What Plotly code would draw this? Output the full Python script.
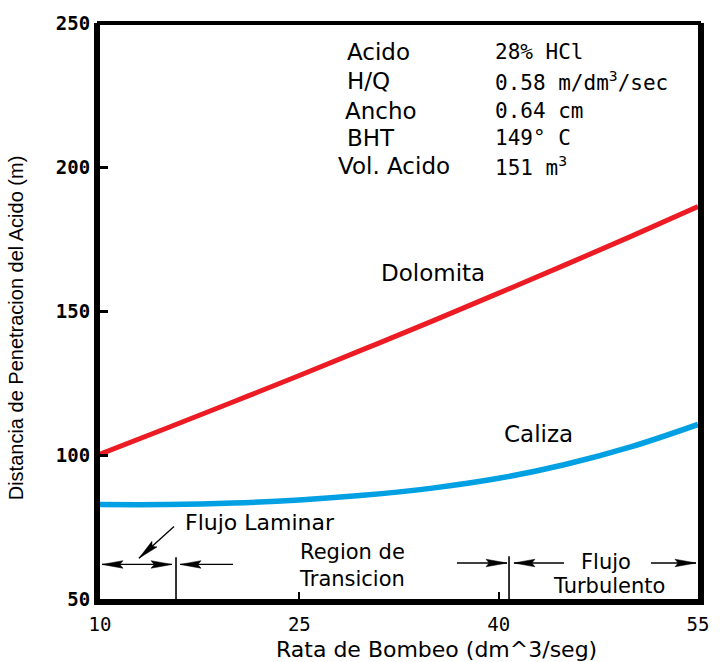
import plotly.graph_objects as go

# Pumping rate (dm^3/seg) and acid penetration distance (m)
rate = [10, 15, 20, 25, 30, 35, 40, 45, 50, 55]
dolomita = [100.3, 109.3, 118.4, 127.6, 137.0, 146.5, 156.2, 166.0, 176.0, 186.3]
caliza = [82.8, 82.8, 83.3, 84.4, 86.1, 88.5, 91.9, 96.7, 102.9, 110.6]

x_ticks = [10, 25, 40, 55]
y_ticks = [50, 100, 150, 200, 250]

param_names = ["Acido", "H/Q", "Ancho", "BHT", "Vol. Acido"]
param_values = ["28% HCl", "0.58 m/dm<sup>3</sup>/sec", "0.64 cm", "149° C", "151 m<sup>3</sup>"]

# flow-regime boundaries on the rate axis
laminar_limit = 15.72
turbulent_limit = 40.78

X_RANGE = [10, 55]
Y_RANGE = [50, 250]
W, H = 723, 662
M = dict(l=100, r=25, t=20, b=63)
PX_X = (W - M["l"] - M["r"]) / (X_RANGE[1] - X_RANGE[0])
PX_Y = (H - M["t"] - M["b"]) / (Y_RANGE[1] - Y_RANGE[0])

SANS = "DejaVu Sans"
MONO = "DejaVu Sans Mono"

fig = go.Figure()
fig.add_trace(go.Scatter(x=rate, y=dolomita, mode="lines", name="Dolomita",
                         line=dict(color="#ED1C24", width=5, shape="spline"), hoverinfo="skip"))
fig.add_trace(go.Scatter(x=rate, y=caliza, mode="lines", name="Caliza",
                         line=dict(color="#00A0E3", width=5.5, shape="spline"), hoverinfo="skip"))

shapes = []
annotations = []


def seg(x0, y0, x1, y1, w=1.3):
    shapes.append(dict(type="line", xref="x", yref="y", x0=x0, y0=y0, x1=x1, y1=y1,
                       line=dict(color="black", width=w), layer="above"))


def head(tx, ty, fx, fy, length=21, half=3.8):
    """Filled narrow arrowhead with tip at (tx, ty), pointing away from (fx, fy)."""
    dxp = (tx - fx) * PX_X
    dyp = (ty - fy) * PX_Y
    n = (dxp ** 2 + dyp ** 2) ** 0.5
    ux, uy = dxp / n, dyp / n
    bx, by = -ux * length, -uy * length
    px, py = -uy * half, ux * half
    pts = [(0, 0), (bx + px, by + py), (bx * 0.85, by * 0.85), (bx - px, by - py)]
    path = "M " + " L ".join(f"{tx + a / PX_X:.4f},{ty + b / PX_Y:.4f}" for a, b in pts) + " Z"
    shapes.append(dict(type="path", xref="x", yref="y", path=path,
                       fillcolor="black", line=dict(color="black", width=0.5), layer="above"))


# laminar region: double arrow, boundary, arrow back toward boundary
row_l = 62.0
seg(10.15, row_l, 15.42, row_l)
head(10.15, row_l, 15.42, row_l)
head(15.42, row_l, 10.15, row_l)
seg(laminar_limit, 50, laminar_limit, 64.5, w=1.6)
seg(16.02, row_l, 20.01, row_l)
head(16.02, row_l, 20.01, row_l)

# pointer from the "Flujo Laminar" label
seg(15.57, 75.2, 12.93, 64.16)
head(12.93, 64.16, 15.57, 75.2)

# transition / turbulent boundary
row_r = 62.5
seg(36.86, row_r, 40.63, row_r)
head(40.63, row_r, 36.86, row_r)
seg(turbulent_limit, 50, turbulent_limit, 64.85, w=1.6)
seg(41.15, row_r, 44.92, row_r)
head(41.15, row_r, 44.92, row_r)
seg(51.46, row_r, 54.85, row_r)
head(54.85, row_r, 51.46, row_r)

# top border of the frame
shapes.append(dict(type="line", xref="paper", yref="paper", x0=-0.005, x1=1.005, y0=1, y1=1,
                   line=dict(color="black", width=4), layer="above"))


def label(text, x, y, size=22, xanchor="center", font=SANS, weight="normal"):
    annotations.append(dict(text=text, x=x, y=y, xref="x", yref="y", showarrow=False,
                            xanchor=xanchor, yanchor="middle",
                            font=dict(family=font, size=size, color="black", weight=weight)))


label("Dolomita", 35.06, 163.3, size=23)
label("Caliza", 43.03, 107.2, size=23)
label("Flujo Laminar", 16.25, 76.6, xanchor="left")
label("Region de", 29.0, 66.2, size=21)
label("Transicion", 29.0, 57.0, size=21)
label("Flujo", 48.08, 63.0, size=21)
label("Turbulento", 48.3, 54.6, size=21)

name_x = [28.44, 28.44, 28.29, 28.44, 27.76]
row_y = [240.0, 230.0, 219.6, 209.9, 200.3]
for nm, val, nx, ry in zip(param_names, param_values, name_x, row_y):
    label(nm, nx, ry, size=23, xanchor="left")
    label(val, 39.57, ry, size=21, xanchor="left", font=MONO)

# axis titles
annotations.append(dict(text="Rata de Bombeo (dm^3/seg)", x=0.562, y=-0.088,
                        xref="paper", yref="paper", showarrow=False,
                        xanchor="center", yanchor="middle",
                        font=dict(family=SANS, size=22, color="black")))
annotations.append(dict(text="Distancia de Penetracion del Acido (m)", x=-0.139, y=0.4715,
                        xref="paper", yref="paper", showarrow=False, textangle=-90,
                        xanchor="center", yanchor="middle",
                        font=dict(family="Liberation Sans", size=20, color="black")))

yfont = dict(family=MONO, size=19, color="black", weight="bold")
xfont = dict(family=MONO, size=19, color="black")

fig.update_layout(
    width=W, height=H, margin=M,
    paper_bgcolor="white", plot_bgcolor="white",
    showlegend=False,
    shapes=shapes, annotations=annotations,
    xaxis=dict(range=X_RANGE, tickvals=x_ticks, ticktext=[str(v) for v in x_ticks],
               ticks="inside", ticklen=7, tickwidth=2, tickcolor="black",
               ticklabelstandoff=3,
               showline=True, linewidth=6, linecolor="black", mirror=False,
               showgrid=False, zeroline=False, tickfont=xfont),
    yaxis=dict(range=Y_RANGE, tickvals=y_ticks, ticktext=[str(v) for v in y_ticks],
               ticks="inside", ticklen=8, tickwidth=3, tickcolor="black",
               showline=True, linewidth=6, linecolor="black", mirror=True,
               showgrid=False, zeroline=False, tickfont=yfont),
)

fig.write_html("out.html")
